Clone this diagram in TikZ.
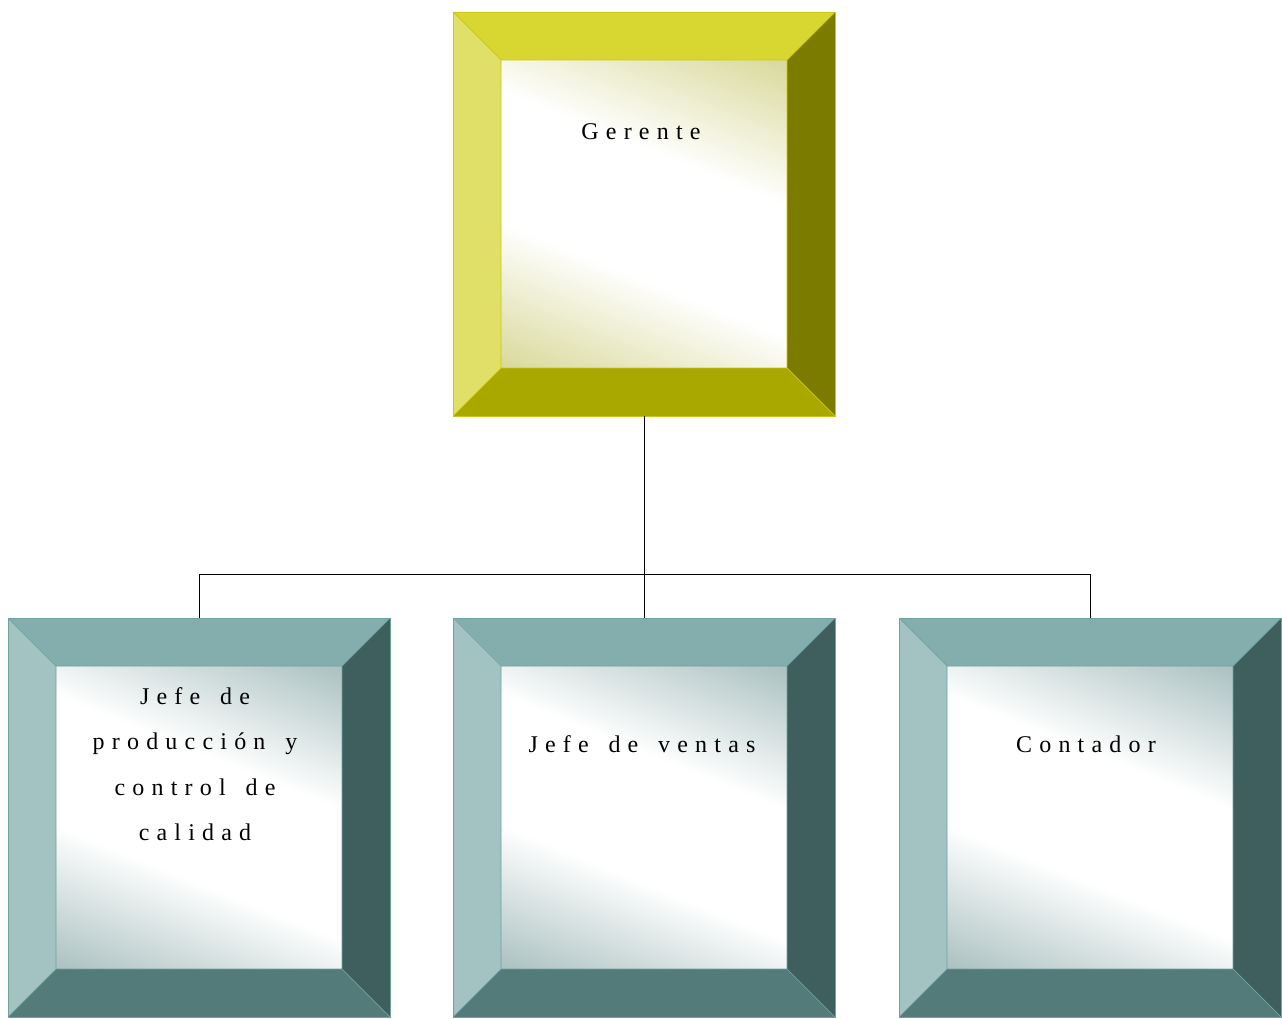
\documentclass[tikz,border=0pt]{standalone}
\usepackage{fontspec}
\usepackage{tikz}
\newfontfamily\orgfont[LetterSpace=30,WordSpace=1.5]{Liberation Serif}
\definecolor{olvline}{HTML}{C9C914}
\definecolor{olvtop}{HTML}{D8D630}
\definecolor{olvleft}{HTML}{E0E068}
\definecolor{olvright}{HTML}{7B7B00}
\definecolor{olvbot}{HTML}{A8A800}
\definecolor{olvtint}{HTML}{D8D898}
\definecolor{tealline}{HTML}{6FA3A1}
\definecolor{tealtop}{HTML}{84AEAE}
\definecolor{tealleft}{HTML}{A3C3C3}
\definecolor{tealright}{HTML}{3E5F5E}
\definecolor{tealbot}{HTML}{527B7A}
\definecolor{tealtint}{HTML}{A9BFBF}
\pgfdeclareverticalshading{olvglow}{100bp}{color(0bp)=(olvtint); color(17bp)=(olvtint);
  color(40bp)=(white); color(60bp)=(white); color(83bp)=(olvtint); color(100bp)=(olvtint)}
\pgfdeclareverticalshading{tealglow}{100bp}{color(0bp)=(tealtint); color(17bp)=(tealtint);
  color(40bp)=(white); color(60bp)=(white); color(83bp)=(tealtint); color(100bp)=(tealtint)}

\tikzset{
  orgbox/.style n args={6}{rectangle, draw=#1, line width=0.8pt, inner sep=0pt,
    outer sep=0pt, minimum width=382pt,
    path picture={
      \coordinate (a) at (path picture bounding box.north west);
      \coordinate (b) at (path picture bounding box.north east);
      \coordinate (c) at (path picture bounding box.south east);
      \coordinate (d) at (path picture bounding box.south west);
      \coordinate (ai) at ([shift={(48pt,-48pt)}]a);
      \coordinate (bi) at ([shift={(-48pt,-48pt)}]b);
      \coordinate (ci) at ([shift={(-48pt,48pt)}]c);
      \coordinate (di) at ([shift={(48pt,48pt)}]d);
      \shade[shading=#6, shading angle=-22] (ai) rectangle (ci);
      \fill[#2] (a) -- (b) -- (bi) -- (ai) -- cycle;
      \fill[#3] (a) -- (ai) -- (di) -- (d) -- cycle;
      \fill[#4] (b) -- (c) -- (ci) -- (bi) -- cycle;
      \fill[#5] (d) -- (di) -- (ci) -- (c) -- cycle;
      \draw[#1, line width=0.7pt] (a) -- (ai) (b) -- (bi) (c) -- (ci) (d) -- (di) (ai) rectangle (ci);
    }},
  olivebox/.style={orgbox={olvline}{olvtop}{olvleft}{olvright}{olvbot}{olvglow}, minimum height=404pt},
  tealbox/.style={orgbox={tealline}{tealtop}{tealleft}{tealright}{tealbot}{tealglow}, minimum height=399pt},
  orgtext/.style={font=\orgfont\fontsize{24}{45.5}\selectfont, align=center, inner sep=0pt}
}

\begin{document}
\begin{tikzpicture}[x=1pt,y=-1pt]
\useasboundingbox (0,0) rectangle (1282,1019);
\node[olivebox] (gerente) at (644,214) {};
\node[tealbox] (prod) at (199,817.5) {};
\node[tealbox] (ventas) at (644,817.5) {};
\node[tealbox] (cont) at (1090,817.5) {};

\node[orgtext, anchor=base] (gerente-txt) at (641,140) {Gerente};
\node[orgtext, anchor=north] (prod-txt) at (195,687) {Jefe de\\producción y\\control de\\calidad};
\node[orgtext, anchor=base] (ventas-txt) at (642,752) {Jefe de ventas};
\node[orgtext, anchor=base] (cont-txt) at (1086,752) {Contador};

\coordinate (bus) at (644,574);
\draw[line width=1pt] (gerente.south) -- (bus);
\foreach \b in {prod,ventas,cont}
  \draw[line width=1pt] (bus) -| (\b.north);
\end{tikzpicture}
\end{document}
